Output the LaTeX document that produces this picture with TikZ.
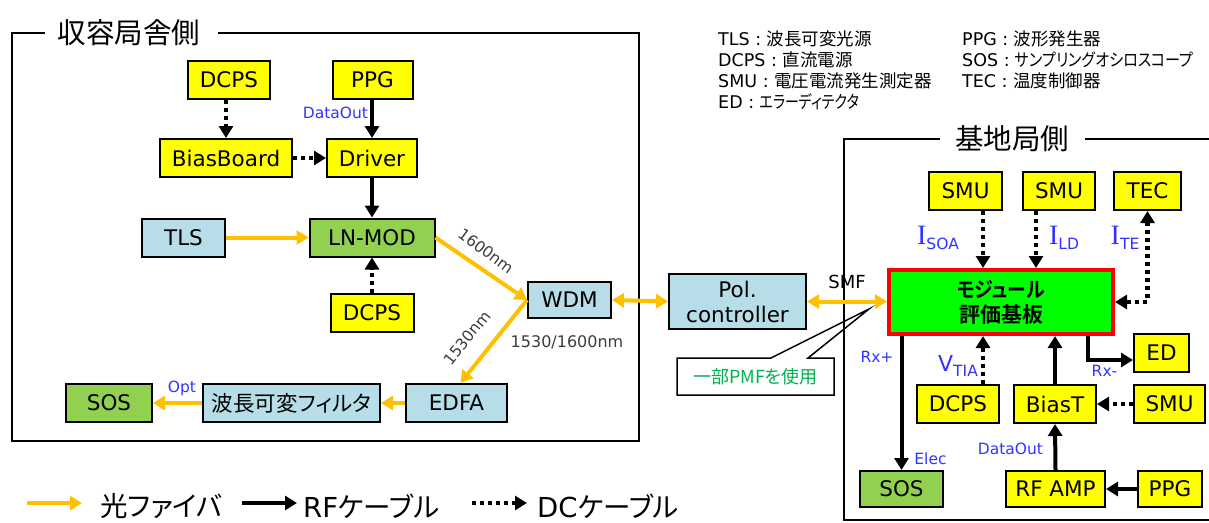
\documentclass[tikz,border=0pt]{standalone}
\usepackage{fontspec}
\setmainfont{DejaVu Sans}
\newfontfamily\cjk[RawFeature=+palt,BoldFont={Noto Sans CJK JP Bold}]{Noto Sans CJK JP}
\newfontfamily\serifI{Liberation Serif}
\usetikzlibrary{arrows.meta,calc}
\definecolor{optc}{RGB}{255,192,0}
\definecolor{ylw}{RGB}{255,255,0}
\definecolor{lblue}{RGB}{183,222,232}
\definecolor{lgreen}{RGB}{146,208,80}
\definecolor{modg}{RGB}{0,255,0}
\definecolor{lblc}{RGB}{51,51,255}
\definecolor{pmfc}{RGB}{0,176,80}
\definecolor{nmc}{RGB}{60,60,60}
\newcommand{\myI}[2]{{\fontsize{28}{28}\selectfont\serifI #1}\raisebox{-5pt}{\fontsize{15.5}{16}\selectfont #2}}
\newcommand{\myV}[2]{{\fontsize{22}{22}\selectfont #1}\raisebox{-5pt}{\fontsize{15.5}{16}\selectfont #2}}
\tikzset{
  box/.style={draw=black, line width=2pt, minimum height=38pt, inner sep=0pt, font=\fontsize{21.5}{25}\selectfont},
  ybox/.style={box, fill=ylw},
  bbox/.style={box, fill=lblue},
  gbox/.style={box, fill=lgreen},
  module/.style={draw=red, line width=4pt, fill=modg, minimum width=224pt, minimum height=64pt, inner sep=0pt, align=center, font=\cjk\bfseries\fontsize{21}{25}\selectfont},
  tipc/.tip={Triangle[length=12pt,width=14pt]},
  opt/.style={draw=optc, line width=4pt, -tipc},
  optboth/.style={draw=optc, line width=4pt, tipc-tipc},
  rf/.style={draw=black, line width=4pt, -tipc},
  dc/.style={draw=black, line width=4.5pt, dash pattern=on 4pt off 4pt, -tipc},
  dcboth/.style={draw=black, line width=4.5pt, dash pattern=on 4pt off 4pt, tipc-tipc},
  blbl/.style={text=lblc, font=\fontsize{15.5}{16}\selectfont, inner sep=0pt},
  nm/.style={text=nmc, font=\fontsize{15.5}{16}\selectfont, inner sep=0pt},
  frame/.style={draw=black, line width=2pt},
  title/.style={font=\cjk\fontsize{28.5}{30}\selectfont, inner sep=0pt},
  abbr/.style={anchor=west, inner sep=0pt, font=\fontsize{17.5}{20}\selectfont},
  legtxt/.style={anchor=west, inner sep=0pt, font=\fontsize{27.5}{30}\selectfont},
}
\begin{document}
\begin{tikzpicture}[x=1pt,y=-1pt]
\useasboundingbox (0,0) rectangle (1209,522);
\fill[white] (0,0) rectangle (1209,522);

% ---------- left frame ----------
\node[title] (tA) at (129,33) {収容局舎側};
\draw[frame] (45,33) -- (12,33) -- (12,441) -- (639,441) -- (639,33) -- (218,33);

\node[ybox, minimum width=82pt] (dcpsA) at (229,79.5) {DCPS};
\node[ybox, minimum width=80pt] (ppgA) at (372.5,79.5) {PPG};
\node[ybox, minimum width=132pt] (bias) at (226,158) {BiasBoard};
\node[ybox, minimum width=90pt] (drv) at (372,158) {Driver};
\node[gbox, minimum width=125pt] (lnmod) at (372,237.5) {LN-MOD};
\node[bbox, minimum width=83pt] (tls) at (183.5,237.5) {TLS};
\node[ybox, minimum width=83pt] (dcpsB) at (372,313) {DCPS};
\node[bbox, minimum width=101pt] (edfa) at (456.5,403) {EDFA};
\node[bbox, minimum width=177pt] (filt) at (291.5,403) {\cjk 波長可変フィルタ};
\node[gbox, minimum width=86pt] (sosA) at (109,403) {SOS};
\node[bbox, minimum width=83pt, minimum height=36pt] (wdm) at (569.5,300) {WDM};
\node[bbox, minimum width=137pt, minimum height=55pt, align=center] (pol) at (737.5,301.5) {Pol.\\controller};

\draw[dc] (dcpsA.south -| bias.north) -- (bias.north);
\draw[rf] (ppgA.south -| drv.north) -- (drv.north);
\draw[dc] (bias.east) -- (drv.west);
\draw[rf] (drv.south) -- (lnmod.north);
\draw[opt] (tls.east) -- (lnmod.west);
\draw[dc] (dcpsB.north) -- (lnmod.south);
\draw[opt] (lnmod.east) -- (wdm.west);
\draw[opt] (wdm.west) -- ([xshift=4pt]edfa.north);
\draw[opt] (edfa.west) -- (filt.east);
\draw[opt] (filt.west) -- (sosA.east);
\draw[optboth] (wdm.east) -- (pol.west);

\node[blbl] (lDO1) at (335.5,113) {DataOut};
\node[blbl] (lOpt) at (182,388) {Opt};
\node[nm, rotate=-37] (l1600) at (486,251) {1600nm};
\node[nm, rotate=51] (l1530) at (467,338) {1530nm};
\node[nm, font=\fontsize{16}{17}\selectfont] (lboth) at (567,342) {1530/1600nm};

% ---------- callout ----------
\coordinate (ctip) at (869,309);
\draw[line width=1.5pt, fill=white] (677,358) -- (771,358) -- (ctip) -- (808,358) -- (834,358) -- (834,395) -- (677,395) -- cycle;
\node[text=pmfc, font=\cjk\fontsize{18}{18}\selectfont, inner sep=0pt] (pmf) at (755.5,377) {一部PMFを使用};

% ---------- right frame ----------
\node[title] (tB) at (1012,139) {基地局側};
\draw[frame] (940,139) -- (844,139) -- (844,520) -- (1209,520);
\draw[frame] (1085,139) -- (1209,139);

\node[module] (mod) at (1001,302) {\scalebox{0.9}[1]{モジュール}\\評価基板};
\node[ybox, minimum width=73pt] (smuA) at (965.5,191) {SMU};
\node[ybox, minimum width=72pt] (smuB) at (1059,191) {SMU};
\node[ybox, minimum width=67pt] (tec) at (1147.5,191) {TEC};
\node[ybox, minimum width=55pt] (ed) at (1161.5,353) {ED};
\node[ybox, minimum width=82pt] (dcpsC) at (958,404) {DCPS};
\node[ybox, minimum width=82pt] (biast) at (1055,404) {BiasT};
\node[ybox, minimum width=71pt] (smuC) at (1169.5,404) {SMU};
\node[gbox, minimum width=83pt, minimum height=36pt] (sosB) at (901.5,489) {SOS};
\node[ybox, minimum width=99pt, minimum height=36pt] (rfamp) at (1055.5,489) {RF AMP};
\node[ybox, minimum width=64pt, minimum height=36pt] (ppgB) at (1170,489) {PPG};

\draw[optboth] (pol.east) -- (pol.east -| mod.west);
\draw[dc] ([xshift=17.5pt]smuA.south) -- ([xshift=17.5pt]smuA.south |- mod.north);
\draw[dc] ([xshift=-23pt]smuB.south) -- ([xshift=-23pt]smuB.south |- mod.north);
\draw[dcboth] (tec.south) |- (mod.east);
\draw[dc] ([xshift=25pt]dcpsC.north) -- ([xshift=25pt]dcpsC.north |- mod.south);
\draw[rf] (biast.north) -- (biast.north |- mod.south);
\draw[rf] ([xshift=87pt]mod.south) |- ([yshift=-7pt]ed.west);
\draw[rf] (sosB.north |- mod.south) -- (sosB.north);
\draw[dc] (smuC.west) -- (biast.east);
\draw[rf] (rfamp.north) -- (biast.south);
\draw[rf] (ppgB.west) -- (rfamp.east);

\node[font=\fontsize{18}{18}\selectfont, inner sep=0pt] (lsmf) at (847,282) {SMF};
\node[blbl] (lrxp) at (877,357) {Rx+};
\node[blbl] (lelec) at (930.5,459) {Elec};
\node[blbl] (lrxm) at (1104.5,371) {Rx-};
\node[blbl] (lDO2) at (1010.5,449) {DataOut};
\node[text=lblc, inner sep=0pt] (lisoa) at (938,238) {\myI{I}{SOA}};
\node[text=lblc, inner sep=0pt] (lild) at (1064,238) {\myI{I}{LD}};
\node[text=lblc, inner sep=0pt] (lite) at (1125,238) {\myI{I}{TE}};
\node[text=lblc, inner sep=0pt] (lvtia) at (958,366) {\myV{V}{TIA}};

% ---------- abbreviations ----------
\node[abbr] (a1) at (718,39) {TLS : {\cjk 波長可変光源}};
\node[abbr] (a2) at (718,60) {DCPS : {\cjk 直流電源}};
\node[abbr] (a3) at (718,81) {SMU : {\cjk 電圧電流発生測定器}};
\node[abbr] (a4) at (718,102) {ED : {\cjk\scalebox{0.8}[1]{エラーディテクタ}}};
\node[abbr] (a5) at (962,39) {PPG : {\cjk 波形発生器}};
\node[abbr] (a6) at (962,60) {SOS : {\cjk\scalebox{0.86}[1]{サンプリングオシロスコープ}}};
\node[abbr] (a7) at (962,81) {TEC : {\cjk 温度制御器}};

% ---------- legend ----------
\coordinate (g1a) at (27,503); \coordinate (g1b) at (82,503);
\coordinate (g2a) at (242,503); \coordinate (g2b) at (297,503);
\coordinate (g3a) at (472,503); \coordinate (g3b) at (527,503);
\draw[opt] (g1a) -- (g1b);
\draw[rf] (g2a) -- (g2b);
\draw[dc] (g3a) -- (g3b);
\node[legtxt] (t1) at (100,506) {\cjk 光ファイバ};
\node[legtxt] (t2) at (303,506) {RF{\cjk ケーブル}};
\node[legtxt] (t3) at (537,506) {DC{\cjk ケーブル}};
\end{tikzpicture}
\end{document}
